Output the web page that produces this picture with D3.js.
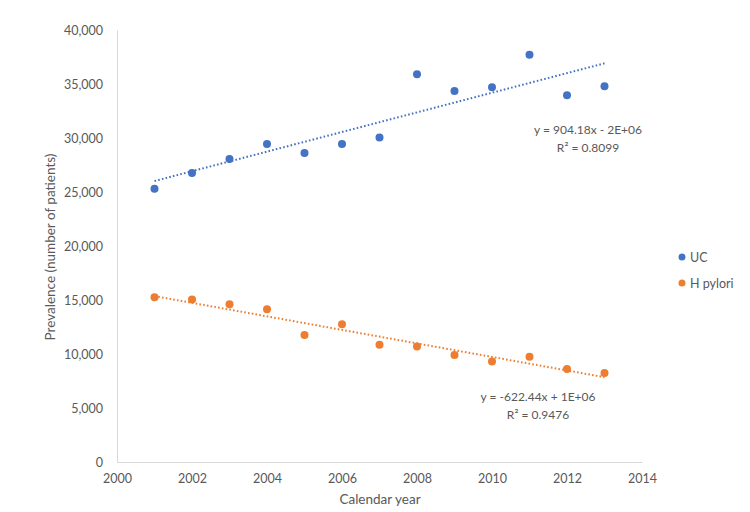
<!DOCTYPE html>
<html>
<head>
<meta charset="utf-8">
<script src="https://cdn.jsdelivr.net/npm/d3@7"></script>
<style>
  html, body { margin: 0; padding: 0; background: #ffffff; }
  text { font-family: Lato, "Open Sans", sans-serif; fill: #595959; }
</style>
</head>
<body>
<svg id="chart" width="750" height="512"></svg>
<script>
const years = [2001, 2002, 2003, 2004, 2005, 2006, 2007, 2008, 2009, 2010, 2011, 2012, 2013];
const ucValues = [25300, 26750, 28050, 29450, 28600, 29450, 30050, 35900, 34350, 34700, 37700, 33950, 34800];
const hpValues = [15250, 15050, 14600, 14150, 11750, 12750, 10850, 10700, 9900, 9300, 9750, 8600, 8250];
const seriesNames = ["UC", "H pylori"];
const seriesColors = ["#4472C4", "#ED7D31"];
const equationLabels = [["y = 904.18x - 2E+06", "R\u00B2 = 0.8099"], ["y = -622.44x + 1E+06", "R\u00B2 = 0.9476"]];
const xTicks = [2000, 2002, 2004, 2006, 2008, 2010, 2012, 2014];
const yTicks = [0, 5000, 10000, 15000, 20000, 25000, 30000, 35000, 40000];

const svg = d3.select("#chart");
const x = d3.scaleLinear().domain([2000, 2014]).range([117, 642]);
const y = d3.scaleLinear().domain([0, 40000]).range([462, 30]);

// axes
const xAxis = svg.append("g").attr("transform", "translate(0,462)")
  .call(d3.axisBottom(x).tickValues(xTicks).tickFormat(d3.format("d")).tickSize(0).tickPadding(12));
const yAxis = svg.append("g").attr("transform", "translate(117,0)")
  .call(d3.axisLeft(y).tickValues(yTicks).tickFormat(d3.format(",")).tickSize(0).tickPadding(14));
[xAxis, yAxis].forEach(a => {
  a.select(".domain").attr("stroke", "#d9d9d9").attr("stroke-width", 1);
  a.selectAll("text").style("font-size", "12.5px").attr("fill", "#595959").style("font-family", "Lato, sans-serif");
});

// axis titles
svg.append("text").attr("x", 380).attr("y", 504).attr("text-anchor", "middle")
  .style("font-size", "13.5px").text("Calendar year");
svg.append("text").attr("transform", "translate(55,247) rotate(-90)").attr("text-anchor", "middle")
  .style("font-size", "13.5px").text("Prevalence (number of patients)");

const series = [ucValues, hpValues];

function fit(xs, ys) {
  const mx = d3.mean(xs), my = d3.mean(ys);
  let num = 0, den = 0;
  xs.forEach((xv, i) => { num += (xv - mx) * (ys[i] - my); den += (xv - mx) ** 2; });
  const b = num / den;
  return { b, a: my - b * mx };
}

series.forEach((vals, si) => {
  const color = seriesColors[si];
  const f = fit(years, vals);
  const x0 = years[0], x1 = years[years.length - 1];
  svg.append("line")
    .attr("x1", x(x0)).attr("y1", y(f.a + f.b * x0))
    .attr("x2", x(x1)).attr("y2", y(f.a + f.b * x1))
    .attr("stroke", color).attr("stroke-width", 2).attr("stroke-dasharray", "1.6,2.2");
  svg.append("g").selectAll("circle").data(vals).join("circle")
    .attr("cx", (d, i) => x(years[i])).attr("cy", d => y(d)).attr("r", 4)
    .attr("fill", color);
});

// equation labels
const eqPos = [[588, 134], [538, 401]];
equationLabels.forEach((lines, si) => {
  lines.forEach((t, li) => {
    svg.append("text").attr("x", eqPos[si][0]).attr("y", eqPos[si][1] + li * 18)
      .attr("text-anchor", "middle").style("font-size", "12px").text(t);
  });
});

// legend
seriesNames.forEach((n, i) => {
  const ly = 257 + i * 26;
  svg.append("circle").attr("cx", 682).attr("cy", ly).attr("r", 3.5).attr("fill", seriesColors[i]);
  svg.append("text").attr("x", 690).attr("y", ly + 4.5).style("font-size", "12.5px").text(n);
});
</script>
</body>
</html>
